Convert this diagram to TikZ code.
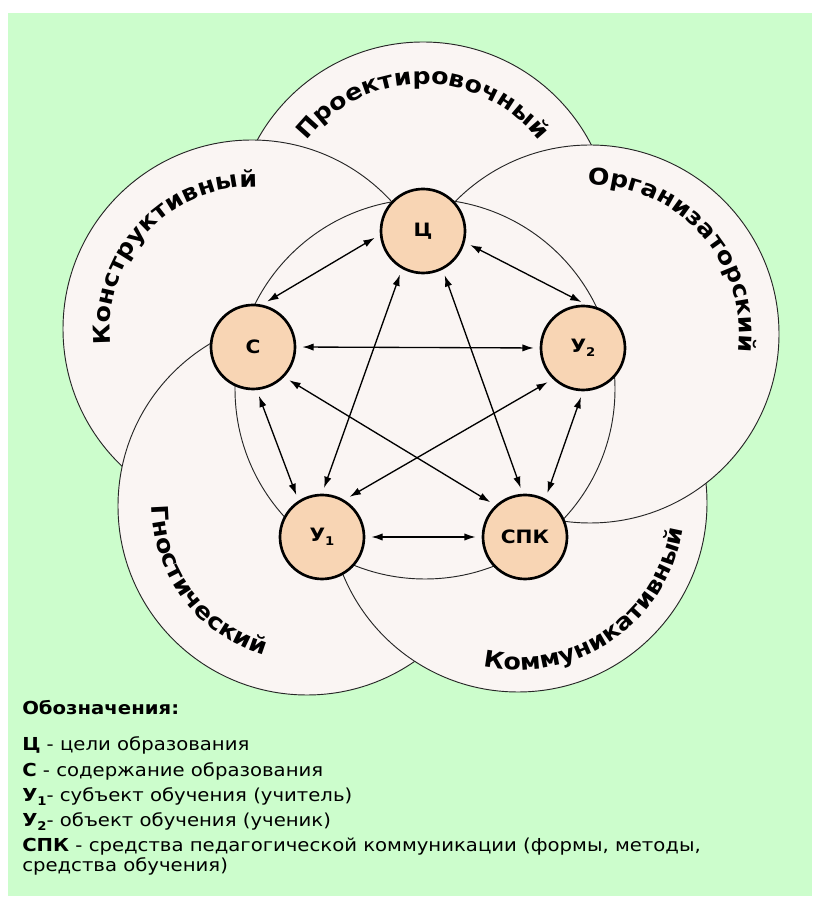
\documentclass[tikz,border=0pt]{standalone}
\usepackage{fontspec}
\setmainfont{DejaVu Sans}[FakeStretch=1.1]
\usetikzlibrary{decorations.text,arrows.meta}
\definecolor{bggreen}{RGB}{204,253,204}
\definecolor{lobefill}{RGB}{250,245,243}
\definecolor{nodefill}{RGB}{248,213,180}
\newcommand{\sbs}[1]{\raisebox{-0.35ex}{\fontsize{9pt}{9pt}\selectfont #1}}
\newcommand{\lobefont}{\fontsize{17.25pt}{20pt}\selectfont\bfseries}
\begin{document}
\begin{tikzpicture}[x=0.75pt,y=0.75pt,
  lobe/.style={fill=lobefill, draw=black!85, line width=0.7pt},
  elem/.style={circle, draw=black, line width=2pt, fill=nodefill, minimum size=63pt, inner sep=0pt, font=\fontsize{13.8pt}{16pt}\selectfont\bfseries},
  link/.style={{Latex[length=8.5pt,width=5.5pt]}-{Latex[length=8.5pt,width=5.5pt]}, line width=1pt, shorten <=4.5pt, shorten >=4.5pt},
  lobetext/.style={decorate, decoration={text along path, text align=center, text={|\lobefont|#1}}},
  legend/.style={anchor=base west, inner sep=0pt, font=\fontsize{13.4pt}{15pt}\selectfont}
]
\useasboundingbox (0,0) rectangle (814,900);
\fill[bggreen] (8,4) rectangle (812,887);
% lobes
\path[lobe] (423,669) circle[radius=189];
\path[lobe] (252,571) circle[radius=189];
\path[lobe] (307,394) circle[radius=189];
\path[lobe] (518,397) circle[radius=189];
\path[lobe] (590,566) circle[radius=189];
% inner circle
\path[lobe] (425,511) circle[radius=190];
% lobe labels
\path[lobetext=Проектировочный] (423,669) ++(155:147) arc[start angle=155, end angle=25, radius=147];
\path[lobetext=Конструктивный] (252,571) ++(200:142) arc[start angle=200, end angle=74, radius=142];
\path[lobetext=Организаторский] (590,566) ++(105:149) arc[start angle=105, end angle=-21, radius=149];
\path[lobetext=Гностический] (307,394) ++(165:155) arc[start angle=165, end angle=269, radius=155];
\path[lobetext=Коммуникативный] (518,397) ++(240:167) arc[start angle=240, end angle=369, radius=167];
% elements
\node[elem] (ts) at (423,669) {Ц};
\node[elem] (cs) at (253,553) {С};
\node[elem] (u2) at (583,552) {У\sbs{2}};
\node[elem] (u1) at (322,363) {У\sbs{1}};
\node[elem] (spk) at (525,363) {СПК};
% links
\draw[link] (ts.185) -- (cs.78);
\draw[link] (ts.345) -- (u2.85);
\draw[link] (ts.241) -- (u1.90);
\draw[link] (ts.297) -- (spk.93);
\draw[link] (cs.275) -- (u1.123);
\draw[link] (u2.270) -- (spk.62);
\draw[link] (cs.316) -- (spk.133);
\draw[link] (u2.226) -- (u1.59);
\draw[link] (u1.0) -- (spk.180);
\draw[link] (cs.0) -- (u2.180);
% legend
\node[legend, font=\fontsize{13.4pt}{15pt}\selectfont\bfseries] (lg0) at (22,185) {Обозначения:};
\node[legend] (lg1) at (22,149) {\textbf{Ц} - цели образования};
\node[legend] (lg2) at (22,123) {\textbf{С} - содержание образования};
\node[legend] (lg3) at (22,98) {\textbf{У\sbs{1}}- субъект обучения (учитель)};
\node[legend] (lg4) at (22,73) {\textbf{У\sbs{2}}- объект обучения (ученик)};
\node[legend] (lg5) at (22,48) {\textbf{СПК} - средства педагогической коммуникации (формы, методы,};
\node[legend] (lg6) at (22,28) {средства обучения)};
\end{tikzpicture}
\end{document}
